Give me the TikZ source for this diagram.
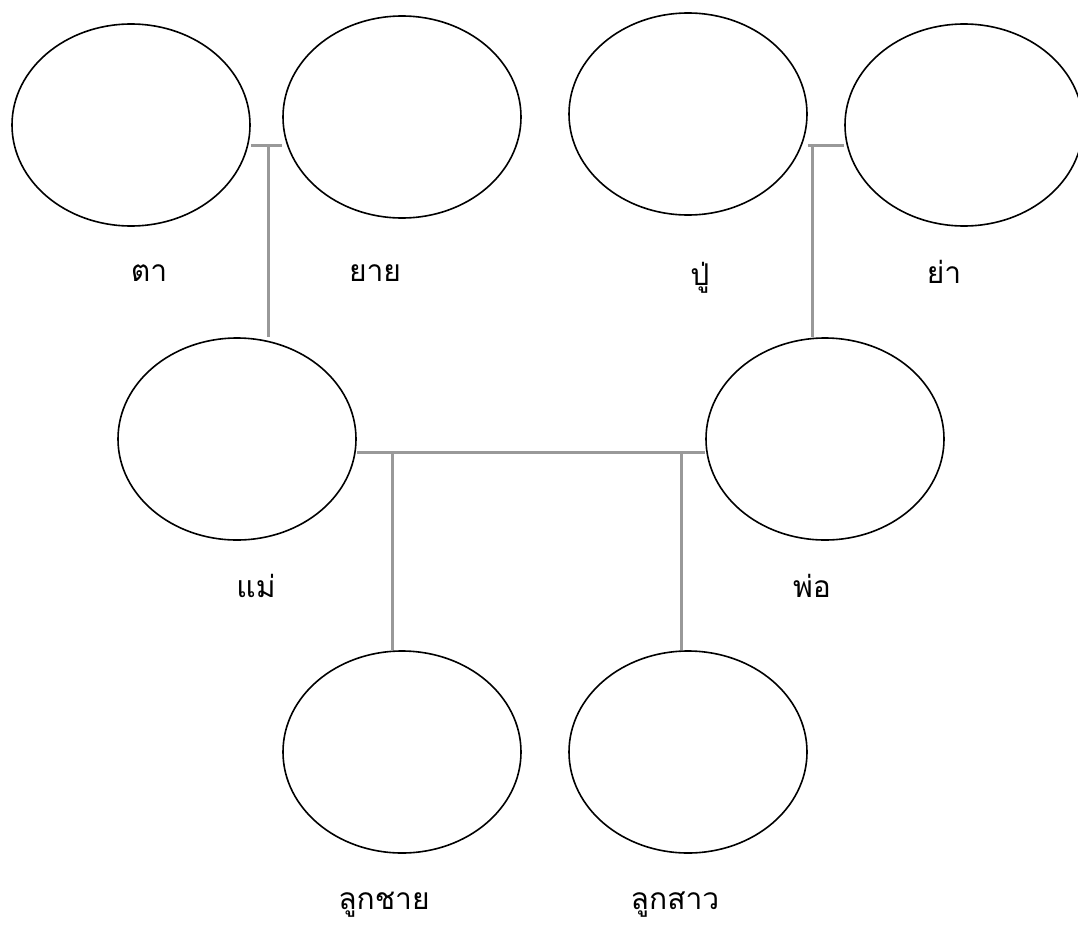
\documentclass[tikz,border=0pt]{standalone}
\usepackage{fontspec}
\usetikzlibrary{shapes.geometric}
\newfontfamily\thaifont[Script=Thai]{Loma}
\begin{document}
\begin{tikzpicture}[x=1pt,y=-1pt,
  person/.style={draw=black,line width=1.6pt,ellipse,minimum width=238pt,minimum height=202pt,inner sep=0pt},
  link/.style={draw=black!40,line width=3pt},
  lbl/.style={font=\thaifont\fontsize{30}{30}\selectfont,anchor=base,inner sep=0pt}]
\useasboundingbox (0,0) rectangle (1078,926);
\node[person] (ta) at (131,125) {};
\node[person] (yai) at (402,117) {};
\node[person] (pu) at (688,114) {};
\node[person] (ya) at (964,125) {};
\node[person] (mae) at (237,439) {};
\node[person] (pho) at (825,439) {};
\node[person] (son) at (402,752) {};
\node[person] (dau) at (688,752) {};
% labels
\node[lbl] (lta) at (149,281) {ตา};
\node[lbl] (lyai) at (375,281) {ยาย};
\node[lbl] (lpu) at (700,285) {ปู่};
\node[lbl] (lya) at (944,283) {ย่า};
\node[lbl] (lmae) at (256,597) {แม่};
\node[lbl] (lpho) at (812,597) {พ่อ};
\node[lbl] (lson) at (384,909) {ลูกชาย};
\node[lbl] (ldau) at (675,909) {ลูกสาว};
% connectors
\coordinate (c1) at (268,145);
\coordinate (c2) at (812,145);
\coordinate (c3) at (392,452);
\coordinate (c4) at (681,452);
\draw[link] (ta.east |- c1) -- (yai.west |- c1);
\draw[link] (c1) -- (c1 |- mae.north);
\draw[link] (pu.east |- c2) -- (ya.west |- c2);
\draw[link] (c2) -- (c2 |- pho.north);
\draw[link] (mae.east |- c3) -- (pho.west |- c3);
\draw[link] (c3) -- (c3 |- son.north);
\draw[link] (c4) -- (c4 |- dau.north);
\end{tikzpicture}
\end{document}
